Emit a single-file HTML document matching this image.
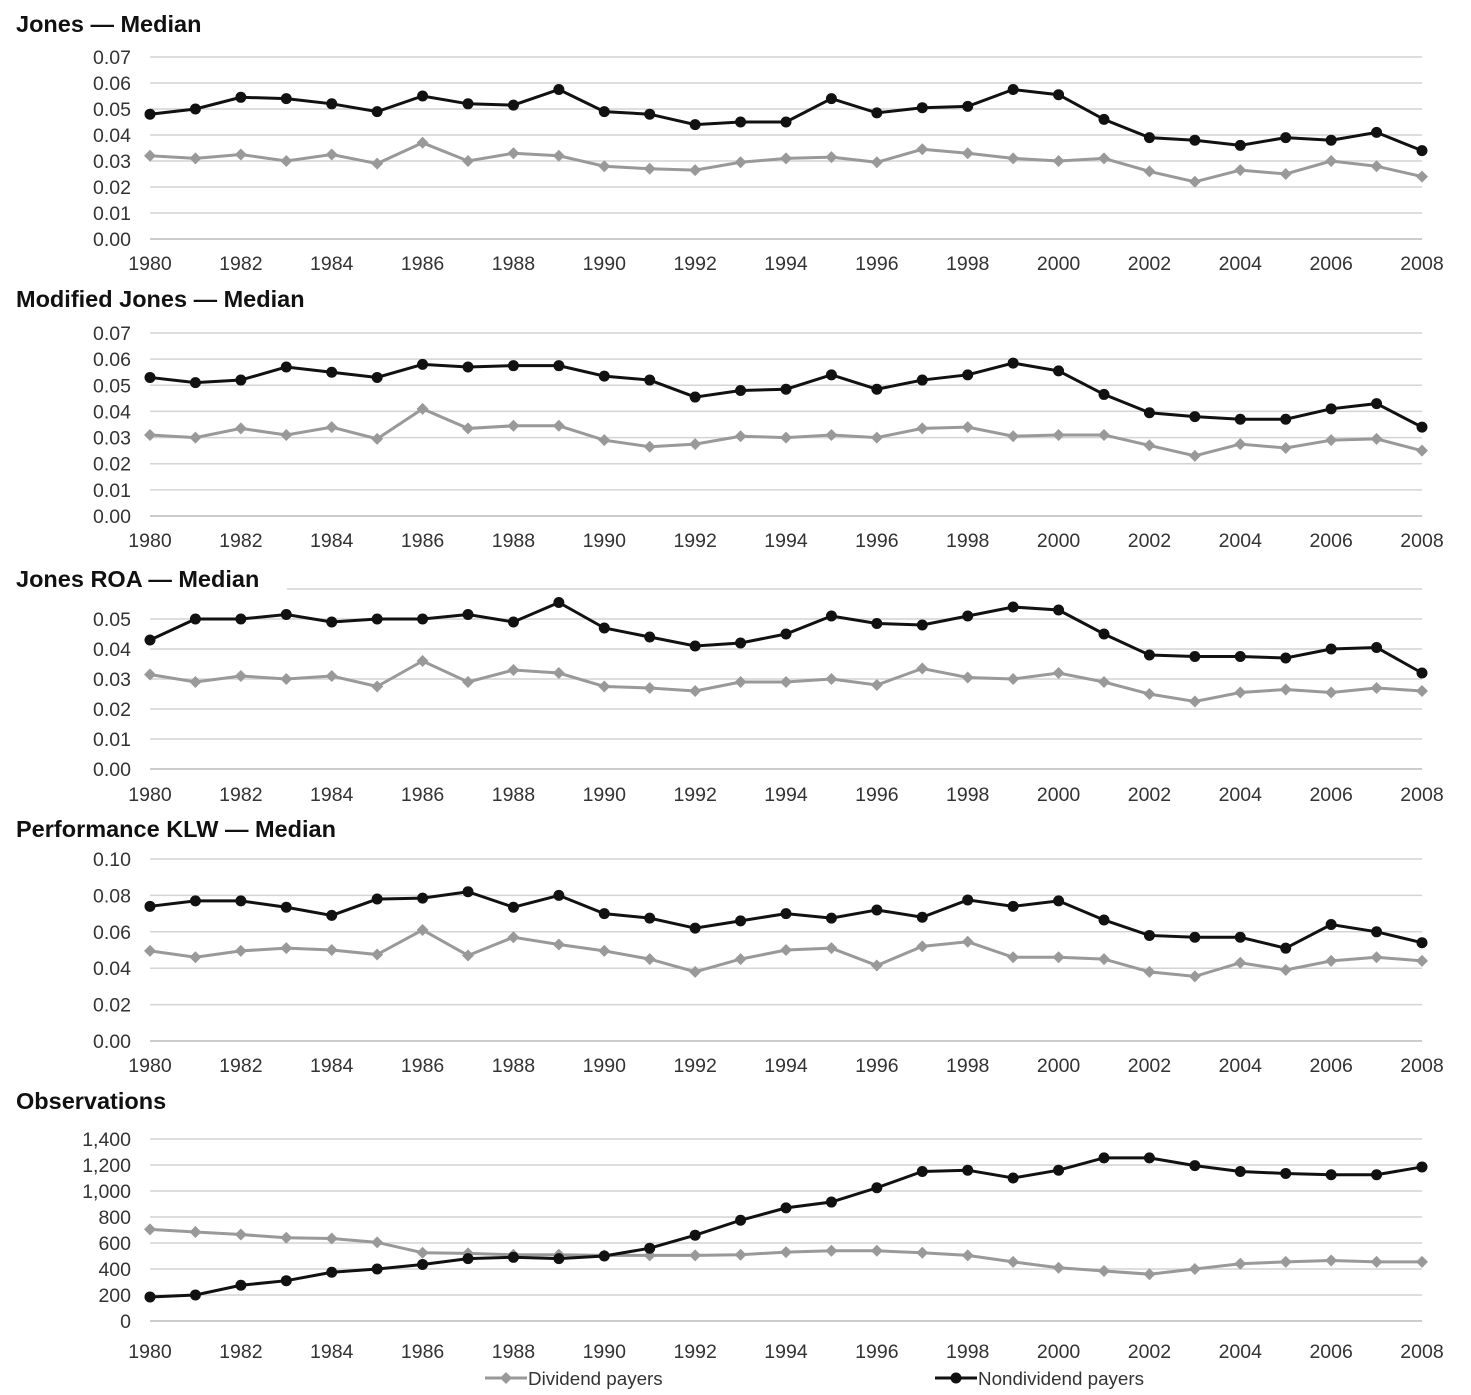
<!DOCTYPE html>
<html><head><meta charset="utf-8"><style>
body{margin:0;background:#fff;}
svg{display:block;font-family:"Liberation Sans",Arial,sans-serif;}
</style></head><body>
<svg id="c" width="1471" height="1395"></svg>
<script>
const years=[];for(let y=1980;y<=2008;y++)years.push(y);
const xTickLabels=["1980","1982","1984","1986","1988","1990","1992","1994","1996","1998","2000","2002","2004","2006","2008"];
const jonesNon=[.048,.050,.0545,.054,.052,.049,.055,.052,.0515,.0575,.049,.048,.044,.045,.045,.054,.0485,.0505,.051,.0575,.0555,.046,.039,.038,.036,.039,.038,.041,.034];
const jonesDiv=[.032,.031,.0325,.030,.0325,.029,.037,.030,.033,.032,.028,.027,.0265,.0295,.031,.0315,.0295,.0345,.033,.031,.030,.031,.026,.022,.0265,.025,.030,.028,.024];
const modNon=[.053,.051,.052,.057,.055,.053,.058,.057,.0575,.0575,.0535,.052,.0455,.048,.0485,.054,.0485,.052,.054,.0585,.0555,.0465,.0395,.038,.037,.037,.041,.043,.034];
const modDiv=[.031,.030,.0335,.031,.034,.0295,.041,.0335,.0345,.0345,.029,.0265,.0275,.0305,.030,.031,.030,.0335,.034,.0305,.031,.031,.027,.023,.0275,.026,.029,.0295,.025];
const roaNon=[.043,.050,.050,.0515,.049,.050,.050,.0515,.049,.0555,.047,.044,.041,.042,.045,.051,.0485,.048,.051,.054,.053,.045,.038,.0375,.0375,.037,.040,.0405,.032];
const roaDiv=[.0315,.029,.031,.030,.031,.0275,.036,.029,.033,.032,.0275,.027,.026,.029,.029,.030,.028,.0335,.0305,.030,.032,.029,.025,.0225,.0255,.0265,.0255,.027,.026];
const klwNon=[.074,.077,.077,.0735,.069,.078,.0785,.082,.0735,.080,.070,.0675,.062,.066,.070,.0675,.072,.068,.0775,.074,.077,.0665,.058,.057,.057,.051,.064,.060,.054];
const klwDiv=[.0495,.046,.0495,.051,.050,.0475,.061,.047,.057,.053,.0495,.045,.038,.045,.050,.051,.0415,.052,.0545,.046,.046,.045,.038,.0355,.043,.039,.044,.046,.044];
const obsNon=[185,200,275,310,375,400,435,480,490,480,500,560,660,775,870,915,1025,1150,1160,1100,1160,1255,1255,1195,1150,1135,1125,1125,1185];
const obsDiv=[705,685,665,640,635,605,525,520,510,510,505,505,505,510,530,540,540,525,505,455,410,385,360,400,440,455,465,455,455];
const yTicks1=["0.00","0.01","0.02","0.03","0.04","0.05","0.06","0.07"];
const yTicks3=["0.00","0.01","0.02","0.03","0.04","0.05"];
const yTicks4=["0.00","0.02","0.04","0.06","0.08","0.10"];
const yTicks5=["0","200","400","600","800","1,000","1,200","1,400"];

const NS="http://www.w3.org/2000/svg";const svg=document.getElementById('c');
function el(t,a,p){const e=document.createElementNS(NS,t);for(const k in a)e.setAttribute(k,a[k]);(p||svg).appendChild(e);return e;}
const x0=150,x1=1422;
const xs=y=>x0+(y-1980)*(x1-x0)/28;
const panels=[
 {title:"Jones \u2014 Median",ty:32,base:239,top:57,max:0.07,ticks:yTicks1,step:0.01,grid:7,lab:270,non:jonesNon,div:jonesDiv,id:"jones",gx:x0},
 {title:"Modified Jones \u2014 Median",ty:307,base:516,top:333,max:0.07,ticks:yTicks1,step:0.01,grid:7,lab:547,non:modNon,div:modDiv,id:"modified-jones",gx:x0},
 {title:"Jones ROA \u2014 Median",ty:587,base:769,top:589,max:0.06,ticks:yTicks3,step:0.01,grid:6,lab:801,non:roaNon,div:roaDiv,id:"jones-roa",gx:287},
 {title:"Performance KLW \u2014 Median",ty:837,base:1041,top:859,max:0.10,ticks:yTicks4,step:0.02,grid:5,lab:1072,non:klwNon,div:klwDiv,id:"performance-klw",gx:x0},
 {title:"Observations",ty:1109,base:1321,top:1139,max:1400,ticks:yTicks5,step:200,grid:7,lab:1358,non:obsNon,div:obsDiv,id:"observations",gx:x0}
];
panels.forEach(p=>{
 const g=el('g',{});
 
 
 const ys=v=>p.base-(v/p.max)*(p.base-p.top);
 const t=el('text',{x:16,y:p.ty,'font-size':23.5,'font-weight':'bold',fill:'#111'},g);t.textContent=p.title;
 
 for(let i=1;i<=p.grid;i++){const gy=ys(i*p.step);el('line',{x1:(i===p.grid?p.gx:x0),x2:x1,y1:gy,y2:gy,stroke:'#d4d4d4','stroke-width':1.5},g);}
 const ax=el('line',{x1:x0,x2:x1,y1:p.base,y2:p.base,stroke:'#bbb','stroke-width':1.5},g);
 
 p.ticks.forEach((lab,i)=>{const tt=el('text',{x:131,y:ys(i*p.step)+7,'font-size':19.5,'text-anchor':'end',fill:'#333'},g);tt.textContent=lab;
  });
 xTickLabels.forEach(lab=>{const tt=el('text',{x:xs(+lab),y:p.lab,'font-size':19.5,'text-anchor':'middle',fill:'#333'},g);tt.textContent=lab;
  });
 const dp=el('polyline',{points:p.div.map((v,i)=>xs(years[i])+','+ys(v)).join(' '),fill:'none',stroke:'#999','stroke-width':3},g);
 
 p.div.forEach((v,i)=>{const cx=xs(years[i]),cy=ys(v);const m=el('polygon',{points:`${cx},${cy-6} ${cx+6},${cy} ${cx},${cy+6} ${cx-6},${cy}`,fill:'#999'},g);
  });
 const np=el('polyline',{points:p.non.map((v,i)=>xs(years[i])+','+ys(v)).join(' '),fill:'none',stroke:'#111','stroke-width':3},g);
 
 p.non.forEach((v,i)=>{const m=el('circle',{cx:xs(years[i]),cy:ys(v),r:5.5,fill:'#111'},g);
  });
});
const lg=el('g',{});

const l1=el('g',{},lg);
el('line',{x1:485,x2:527,y1:1378,y2:1378,stroke:'#999','stroke-width':3},l1);
el('polygon',{points:'506,1372 512,1378 506,1384 500,1378',fill:'#999'},l1);
let tx=el('text',{x:528,y:1385,'font-size':18.8,fill:'#333'},l1);tx.textContent='Dividend payers';
const l2=el('g',{},lg);
el('line',{x1:935,x2:977,y1:1378,y2:1378,stroke:'#111','stroke-width':3},l2);
el('circle',{cx:956,cy:1378,r:5.5,fill:'#111'},l2);
tx=el('text',{x:978,y:1385,'font-size':18.8,fill:'#333'},l2);tx.textContent='Nondividend payers';
</script>
</body></html>
